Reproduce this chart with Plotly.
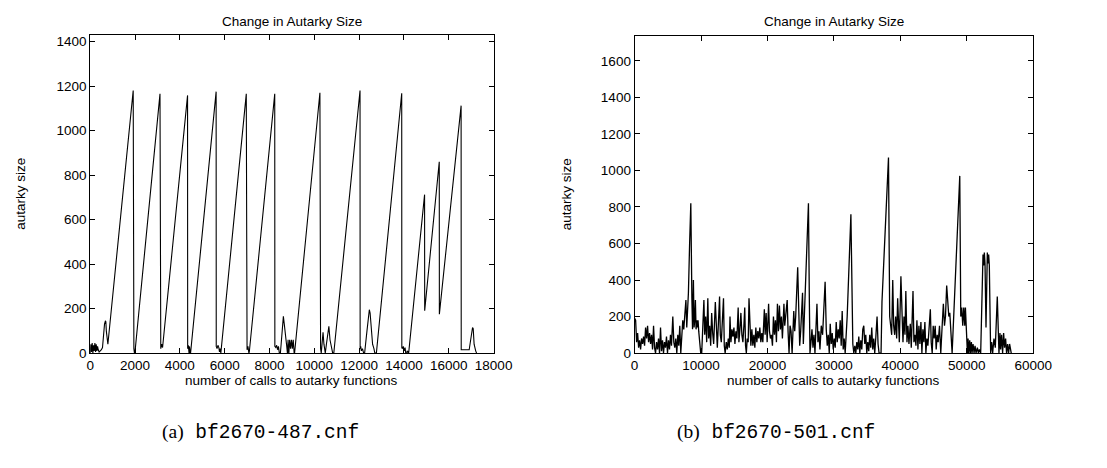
import plotly.graph_objects as go

# ---------------- data: (a) bf2670-487.cnf ----------------
left_calls = [
    0, 30, 60, 90, 120, 150, 180, 210, 240, 270,
    300, 330, 360, 400, 450, 500, 550, 600, 640, 680,
    700, 720, 760, 790, 1920, 1925, 1950, 1975, 1995, 3115,
    3120, 3150, 3190, 3230, 4345, 4350, 4380, 4410, 4430, 4460,
    4480, 5620, 5625, 5660, 5700, 5740, 5770, 5800, 5830, 6965,
    6970, 7000, 7040, 7080, 7100, 8235, 8240, 8280, 8320, 8360,
    8400, 8440, 8470, 8520, 8570, 8620, 8660, 8700, 8760, 8800,
    8830, 8860, 8900, 8940, 8980, 9020, 9060, 9100, 9120, 10250,
    10255, 10280, 10310, 10390, 10430, 10490, 10540, 10600, 10650, 10700,
    10770, 10820, 10870, 12040, 12045, 12070, 12100, 12150, 12200, 12245,
    12350, 12455, 12490, 12540, 12600, 12660, 12700, 12770, 13900, 13905,
    13930, 13970, 14010, 14050, 14100, 14140, 14210, 14920, 14925, 15575,
    15580, 16550, 16555, 16910, 16950, 17020, 17060, 17090, 17130, 17200,
    17240, 17260,
]
left_size = [
    0, 40, 5, 45, 0, 35, 10, 45, 5, 40,
    10, 30, 15, 5, 10, 15, 25, 100, 130, 145,
    140, 100, 50, 40, 1180, 35, 20, 0, 0, 1165,
    30, 20, 40, 25, 1158, 20, 35, 0, 30, 0,
    0, 1175, 30, 20, 35, 25, 5, 20, 0, 1165,
    30, 15, 30, 0, 5, 1165, 30, 25, 35, 15,
    30, 0, -20, 40, 100, 165, 130, 100, 40, 0,
    60, -10, 60, 20, 60, 20, 60, 0, 0, 1170,
    30, 20, 0, 94, 40, 0, 40, 90, 120, 60,
    30, 0, 0, 1180, 20, 30, 10, 20, 0, 0,
    100, 195, 180, 100, 40, 20, 0, 0, 1168, 25,
    20, 30, 10, 25, -20, 10, 0, 712, 190, 860,
    175, 1112, 15, 15, 40, 100, 115, 110, 40, 10,
    0, -20,
]

# ---------------- data: (b) bf2670-501.cnf ----------------
right_calls = [
    0, 150, 300, 450, 600, 750, 900, 1050, 1200, 1350,
    1500, 1650, 1800, 1950, 2100, 2250, 2400, 2550, 2700, 2850,
    3000, 3150, 3300, 3450, 3600, 3750, 3900, 4050, 4200, 4350,
    4500, 4650, 4800, 4950, 5100, 5250, 5400, 5550, 5750, 5900,
    6050, 6200, 6350, 6500, 6650, 6800, 6950, 7100, 7250, 7400,
    7550, 7720, 7850, 7950, 8100, 8280, 8460, 8620, 8720, 8850,
    8950, 9050, 9150, 9250, 9350, 9450, 9550, 9650, 9800, 9950,
    10100, 10250, 10430, 10550, 10700, 10850, 11020, 11150, 11300, 11450,
    11600, 11750, 11900, 12150, 12300, 12450, 12790, 12900, 13050, 13200,
    13380, 13500, 13630, 13800, 13950, 14100, 14250, 14360, 14500, 14650,
    14800, 14950, 15100, 15250, 15400, 15590, 15700, 15850, 16000, 16150,
    16300, 16450, 16580, 16700, 16820, 16950, 17100, 17220, 17350, 17500,
    17650, 17800, 17950, 18100, 18250, 18400, 18550, 18700, 18850, 19000,
    19150, 19300, 19530, 19650, 19800, 19950, 20170, 20300, 20450, 20600,
    20750, 20900, 21050, 21200, 21350, 21500, 21650, 21800, 21950, 22100,
    22250, 22480, 22600, 22750, 22970, 23100, 23250, 23400, 23550, 23710,
    23960, 24100, 24250, 24550, 24700, 24850, 25000, 25280, 25400, 25550,
    25850, 26170, 26300, 26400, 26550, 26700, 26850, 27000, 27150, 27300,
    27450, 27600, 27750, 27900, 28100, 28300, 28680, 28850, 29000, 29150,
    29300, 29450, 29600, 29750, 29900, 30050, 30200, 30350, 30500, 30650,
    30800, 30950, 31100, 31250, 31400, 31550, 31700, 31850, 32000, 32560,
    32700, 32850, 33000, 33150, 33300, 33450, 33600, 33750, 33900, 34050,
    34200, 34350, 34500, 34650, 34800, 34950, 35100, 35250, 35400, 35550,
    35700, 35850, 36000, 36150, 36300, 36500, 36650, 36800, 37100, 37240,
    38220, 38400, 38550, 38700, 38860, 39000, 39150, 39300, 39450, 39600,
    39750, 39850, 40090, 40250, 40400, 40550, 40700, 40830, 41000, 41150,
    41300, 41500, 41650, 41910, 42050, 42200, 42350, 42500, 42650, 42800,
    42950, 43100, 43250, 43400, 43550, 43700, 43850, 44000, 44150, 44300,
    44520, 44650, 44800, 44950, 45100, 45250, 45400, 45550, 45700, 45900,
    46090, 46300, 46480, 46650, 46800, 46980, 47150, 47300, 47450, 47600,
    47800, 48950, 49100, 49250, 49400, 49550, 49700, 49800, 49950, 50100,
    50200, 50300, 50450, 50550, 50700, 50800, 50950, 51100, 51250, 51400,
    51600, 51750, 51900, 52100, 52450, 52550, 52650, 52750, 52900, 53100,
    53200, 53300, 53400, 53600, 53750, 53900, 54100, 54300, 54600, 54750,
    54850, 55000, 55100, 55250, 55400, 55550, 55700, 55850, 56000, 56150,
    56300, 56450, 56600, 56700,
]
right_size = [
    190, 180, 60, 110, 30, 70, 20, 80, 50, 90,
    40, 140, 80, 150, 60, 110, 50, 100, 20, 150,
    30, 0, 60, 20, 80, 0, 140, 10, 70, 0,
    60, 30, 90, 0, 70, 20, 100, 40, 200, 60,
    30, 80, 0, 100, 40, 150, 0, 100, 180, 130,
    200, 290, 140, 200, 330, 600, 820, 300, 130, 400,
    140, 180, 290, 130, 180, 140, 180, 120, 60, 0,
    0, 120, 290, 100, 200, 60, 300, 80, 150, 40,
    220, 110, 50, 280, 120, 30, 310, 100, 60, 200,
    300, 40, 0, 60, 20, 80, 30, 200, 60, 130,
    90, 140, 50, 120, 80, 250, 60, 130, 220, 100,
    60, 150, 250, 40, 0, 80, 60, 300, 100, 40,
    130, 40, 100, 30, 140, 60, 120, 80, 140, 60,
    110, 60, 240, 100, 220, 60, 270, 120, 80, 100,
    40, 200, 100, 180, 60, 270, 120, 260, 130, 200,
    80, 270, 150, 200, 290, 120, 0, 150, 120, 0,
    230, 120, 200, 470, 200, 40, 120, 330, 50, 200,
    500, 820, 300, 0, 60, 130, 30, 100, 0, 180,
    270, 60, 120, 20, 150, 100, 390, 130, 40, 100,
    0, 160, 50, 110, 20, 80, 30, 170, 60, 130,
    80, 180, 40, 230, 20, 80, 0, 100, 200, 760,
    300, 50, 0, 40, 0, 60, 20, 90, 0, 70,
    20, 130, 150, 50, 100, 0, 60, 10, 100, 30,
    140, 20, 80, 0, 80, 200, 50, 0, 0, 280,
    1070, 200, 150, 100, 400, 150, 100, 200, 80, 300,
    150, 60, 420, 150, 60, 200, 100, 340, 60, 150,
    50, 160, 30, 340, 60, 100, 40, 180, 20, 150,
    50, 170, 0, 130, 60, 170, 0, 80, 40, 120,
    240, 60, 0, 150, 80, 150, 20, 100, 60, 150,
    0, 150, 270, 150, 200, 370, 250, 200, 220, 120,
    0, 970, 200, 250, 150, 250, 150, 250, 100, 0,
    80, 0, 70, 0, 60, 0, 50, 0, 40, 0,
    30, 0, 20, 0, 540, 480, 550, 490, 140, 550,
    490, 540, 480, 0, 60, 0, 80, 30, 310, 100,
    0, 110, 20, 100, 0, 110, 30, 80, 0, 50,
    0, 50, 0, 0,
]

left_xticks = list(range(0, 18001, 2000))
left_yticks = list(range(0, 1401, 200))
right_xticks = list(range(0, 60001, 10000))
right_yticks = list(range(0, 1601, 200))

plot_title = "Change in Autarky Size"
x_title = "number of calls to autarky functions"
y_title = "autarky size"
captions = [("(a)", "bf2670-487.cnf"), ("(b)", "bf2670-501.cnf")]

# ---------------- layout geometry ----------------
W, H = 1107, 468
FONT = "Liberation Sans"
FS = 13.5


def px(x):
    return x / W


def py(y):
    return 1 - y / H


frames = [
    dict(x0=88, x1=500, y0=35, y1=359),
    dict(x0=644, x1=1051, y0=36, y1=359),
]

fig = go.Figure()
fig.add_trace(go.Scatter(x=left_calls, y=left_size, mode="lines",
                         line=dict(color="black", width=1.1), xaxis="x", yaxis="y",
                         showlegend=False))
fig.add_trace(go.Scatter(x=right_calls, y=right_size, mode="lines",
                         line=dict(color="black", width=1.3), xaxis="x2", yaxis="y2",
                         showlegend=False))

axis_common = dict(
    showline=True, linecolor="black", linewidth=1, mirror="ticks",
    ticks="inside", ticklen=5, tickcolor="black", tickwidth=1,
    showgrid=False, zeroline=False,
    tickfont=dict(family=FONT, size=FS, color="black"),
)

fig.update_layout(
    width=W, height=H,
    margin=dict(l=0, r=0, t=0, b=0),
    paper_bgcolor="white", plot_bgcolor="white",
    xaxis=dict(domain=[px(frames[0]["x0"]), px(frames[0]["x1"])], range=[0, 18000],
               tickvals=left_xticks, ticktext=[str(v) for v in left_xticks],
               anchor="y", **axis_common),
    yaxis=dict(domain=[py(frames[0]["y1"]), py(frames[0]["y0"])], range=[0, 1428],
               tickvals=left_yticks, ticktext=[str(v) for v in left_yticks],
               anchor="x", **axis_common),
    xaxis2=dict(domain=[px(frames[1]["x0"]), px(frames[1]["x1"])], range=[0, 60000],
                tickvals=right_xticks, ticktext=[str(v) for v in right_xticks],
                anchor="y2", **axis_common),
    yaxis2=dict(domain=[py(frames[1]["y1"]), py(frames[1]["y0"])], range=[0, 1734],
                tickvals=right_yticks, ticktext=[str(v) for v in right_yticks],
                anchor="x2", **axis_common),
)

annotations = []
for i, f in enumerate(frames):
    cx = (f["x0"] + f["x1"]) / 2
    annotations.append(dict(x=px(cx), y=py(21), xref="paper", yref="paper",
                            text=plot_title, showarrow=False,
                            xanchor="center", yanchor="middle",
                            font=dict(family=FONT, size=FS, color="black")))
    annotations.append(dict(x=px(cx), y=py(387), xref="paper", yref="paper",
                            text=x_title, showarrow=False,
                            xanchor="center", yanchor="middle",
                            font=dict(family=FONT, size=FS, color="black")))
    ylx = 17 if i == 0 else 574
    annotations.append(dict(x=px(ylx), y=py(197), xref="paper", yref="paper",
                            text=y_title, showarrow=False, textangle=-90,
                            xanchor="center", yanchor="middle",
                            font=dict(family=FONT, size=FS, color="black")))
    cap_x = 262 if i == 0 else 788
    lab, fname = captions[i]
    annotations.append(dict(
        x=px(cap_x), y=py(440), xref="paper", yref="paper",
        text=(f'<span style="font-family:Liberation Serif">{lab}</span> '
              f'<span style="font-family:Liberation Mono">{fname}</span>'),
        showarrow=False, xanchor="center", yanchor="middle",
        font=dict(family="Liberation Mono", size=19.5, color="black")))

fig.update_layout(annotations=annotations)
fig.write_html("out.html")
